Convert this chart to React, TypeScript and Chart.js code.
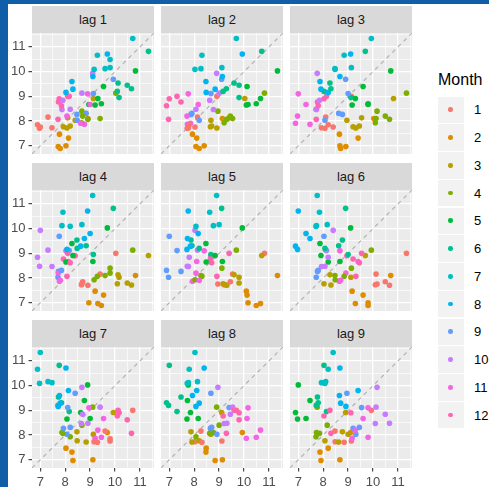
import React, { useEffect, useRef } from 'react';
import { Chart, registerables } from 'chart.js';

Chart.register(...registerables);

// Monthly series (starts in January), one array per year
const startMonth = 1;
const yearA = [9.0, 8.1, 8.91, 9.13, 10.03, 10.82, 11.34, 10.71, 9.69, 9.93, 9.1, 8.9];
const yearB = [7.76, 7.0, 8.03, 8.4, 8.67, 8.95, 10.16, 9.8, 9.11, 9.13, 8.67, 9.0];
const yearC = [8.16, 7.31, 8.13, 8.1, 9.4, 9.54, 10.12, 9.6, 8.27, 8.47, 7.87, 8.77];
const yearD = [7.73, 7.47, 7.77, 7.93, 8.65, 9.2, 10.09, 9.16, 8.03, 8.48, 8.2, 8.07];
const yearE = [7.71, 6.97, 7.72, 8.07, 8.91, 9.31, 10.66, 9.29, 8.31, 8.84, 7.91, 8.62];
const yearF = [7.85, 6.89, 7.8, 8.2, 8.7, 9.45, 10.49, 9.8];

const lags = [1, 2, 3, 4, 5, 6, 7, 8, 9];
const monthLabels = ['1', '2', '3', '4', '5', '6', '7', '8', '9', '10', '11', '12'];
const monthColors = [
  '#F8766D', '#DE8C00', '#B79F00', '#7CAE00', '#00BA38', '#00C08B',
  '#00BFC4', '#00B4F0', '#619CFF', '#C77CFF', '#F564E3', '#FF64B0',
];
const majorTicks = [7, 8, 9, 10, 11];
const minorTicks = [7.5, 8.5, 9.5, 10.5, 11.5];

const series = [...yearA, ...yearB, ...yearC, ...yearD, ...yearE, ...yearF];
const sMin = Math.min(...series);
const sMax = Math.max(...series);
const pad = (sMax - sMin) * 0.05;
const lo = sMin - pad;
const hi = sMax + pad;
const gridVals = [...majorTicks, ...minorTicks].sort((a, b) => a - b);

const FONT = "'Liberation Sans', Arial, Helvetica, sans-serif";

// layout
const colX = [32, 161, 290];
const rowY = [33, 190, 347];
const PW = 122;
const PH = 121;
const AY = 24;
const AX = 20;
const M = 12;
const SH = 27;

const panelBg = {
  id: 'panelBg',
  beforeDraw(chart: any) {
    const { ctx, chartArea: a } = chart;
    ctx.save();
    ctx.fillStyle = '#EBEBEB';
    ctx.fillRect(a.left, a.top, a.right - a.left, a.bottom - a.top);
    ctx.restore();
  },
};

function isMajor(v: number) {
  return majorTicks.includes(v);
}

function axisOptions(showLabels: boolean, isX: boolean) {
  return {
    type: 'linear',
    position: isX ? 'bottom' : 'left',
    min: lo,
    max: hi,
    afterBuildTicks: (s: any) => {
      s.ticks = gridVals.map((v) => ({ value: v }));
    },
    afterFit: (s: any) => {
      if (isX) s.height = showLabels ? AX : 0;
      else s.width = showLabels ? AY : 0;
    },
    border: { display: false },
    grid: {
      color: '#FFFFFF',
      lineWidth: (ctx: any) => (ctx.tick && isMajor(ctx.tick.value) ? 1.3 : 0.65),
      drawTicks: showLabels,
      tickLength: 3.5,
      tickWidth: 1.1,
      tickColor: (ctx: any) => (ctx.tick && isMajor(ctx.tick.value) ? '#333333' : 'rgba(0,0,0,0)'),
    },
    ticks: {
      display: showLabels,
      autoSkip: false,
      maxRotation: 0,
      minRotation: 0,
      padding: 3,
      color: '#4D4D4D',
      font: { family: FONT, size: 13 },
      callback: (v: any) => (isMajor(Number(v)) ? String(v) : ''),
    },
  };
}

function Panel({ lag, idx }: { lag: number; idx: number }) {
  const ref = useRef<HTMLCanvasElement>(null);
  const r = Math.floor(idx / 3);
  const c = idx % 3;
  const isLeft = c === 0;
  const isBottom = r === 2;
  const cw = M + (isLeft ? AY : 0) + PW + M;
  const ch = M + PH + (isBottom ? AX : 0) + M;
  const left = colX[c] - (isLeft ? AY : 0) - M;
  const top = rowY[r] - M;

  useEffect(() => {
    const pts: { x: number; y: number }[] = [];
    const cols: string[] = [];
    for (let t = 0; t + lag < series.length; t++) {
      pts.push({ x: series[t + lag], y: series[t] });
      cols.push(monthColors[(startMonth - 1 + t) % 12]);
    }
    const chart = new Chart(ref.current as HTMLCanvasElement, {
      type: 'scatter',
      data: {
        datasets: [
          {
            data: [
              { x: lo, y: lo },
              { x: hi, y: hi },
            ],
            showLine: true,
            borderColor: '#B3B3B3',
            borderWidth: 1.2,
            borderDash: [4, 4],
            pointRadius: 0,
            order: 2,
          } as any,
          {
            data: pts,
            backgroundColor: cols,
            pointBackgroundColor: cols,
            pointBorderWidth: 0,
            borderWidth: 0,
            pointRadius: 2.8,
            order: 1,
          } as any,
        ],
      },
      options: {
        animation: false,
        responsive: false,
        maintainAspectRatio: false,
        devicePixelRatio: 1,
        events: [],
        layout: { padding: { left: M, right: M, top: M, bottom: M }, autoPadding: false },
        plugins: { legend: { display: false }, tooltip: { enabled: false }, title: { display: false } },
        scales: {
          x: axisOptions(isBottom, true) as any,
          y: axisOptions(isLeft, false) as any,
        },
      } as any,
      plugins: [panelBg],
    });
    return () => chart.destroy();
  }, [lag]);

  return (
    <>
      <div
        style={{
          position: 'absolute',
          left: colX[c],
          top: rowY[r] - SH,
          width: PW,
          height: SH,
          background: '#D9D9D9',
          color: '#1A1A1A',
          fontFamily: FONT,
          fontSize: 13,
          display: 'flex',
          alignItems: 'center',
          justifyContent: 'center',
        }}
      >
        {'lag ' + lag}
      </div>
      <canvas
        ref={ref}
        width={cw}
        height={ch}
        style={{ position: 'absolute', left, top, width: cw, height: ch }}
      />
    </>
  );
}

export default function App() {
  return (
    <div
      style={{
        position: 'fixed',
        left: 0,
        top: 0,
        width: 489,
        height: 487,
        background: '#105EA7',
        overflow: 'hidden',
      }}
    >
      <div style={{ position: 'absolute', left: 8, top: 4, right: 0, bottom: 0, background: '#FFFFFF' }} />
      {lags.map((lag, i) => (
        <Panel key={lag} lag={lag} idx={i} />
      ))}
      <div
        style={{
          position: 'absolute',
          left: 438,
          top: 71,
          fontFamily: FONT,
          fontSize: 16,
          lineHeight: '18px',
          color: '#000000',
        }}
      >
        Month
      </div>
      {monthLabels.map((lab, i) => (
        <React.Fragment key={lab}>
          <div
            style={{
              position: 'absolute',
              left: 438,
              top: 96.5 + i * 27.75,
              width: 25.5,
              height: 26.5,
              background: '#F2F2F2',
            }}
          >
            <div
              style={{
                position: 'absolute',
                left: 12.75 - 2.3,
                top: 13.25 - 2.3,
                width: 4.6,
                height: 4.6,
                borderRadius: '50%',
                background: monthColors[i],
              }}
            />
          </div>
          <div
            style={{
              position: 'absolute',
              left: 474,
              top: 96.5 + i * 27.75,
              height: 26.5,
              display: 'flex',
              alignItems: 'center',
              fontFamily: FONT,
              fontSize: 13,
              color: '#000000',
            }}
          >
            {lab}
          </div>
        </React.Fragment>
      ))}
    </div>
  );
}
